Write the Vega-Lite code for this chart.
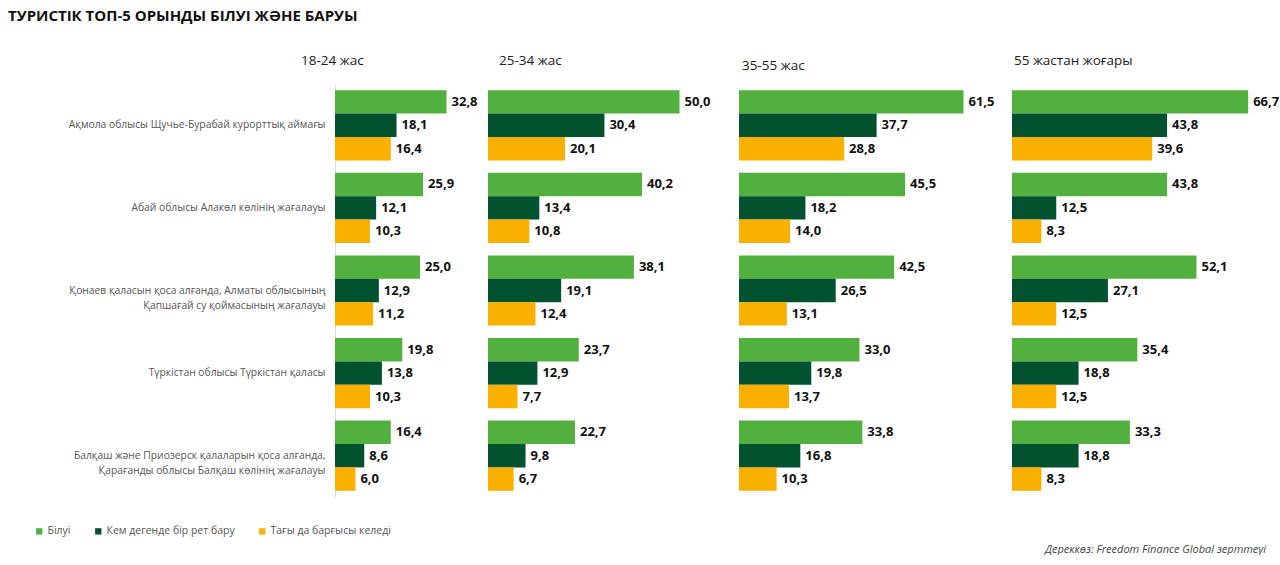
{
  "$schema": "https://vega.github.io/schema/vega-lite/v6.json",
  "padding": {"left": 8, "top": 8, "right": 0, "bottom": 0},
  "background": "white",
  "data": {
    "values": [
      {"age": "18-24 жас", "place": "Ақмола облысы Щучье-Бурабай курорттық аймағы", "Білуі": 32.8, "Кем дегенде бір рет бару": 18.1, "Тағы да барғысы келеді": 16.4},
      {"age": "18-24 жас", "place": "Абай облысы Алакөл көлінің жағалауы", "Білуі": 25.9, "Кем дегенде бір рет бару": 12.1, "Тағы да барғысы келеді": 10.3},
      {"age": "18-24 жас", "place": "Қонаев қаласын қоса алғанда, Алматы облысының Қапшағай су қоймасының жағалауы", "Білуі": 25.0, "Кем дегенде бір рет бару": 12.9, "Тағы да барғысы келеді": 11.2},
      {"age": "18-24 жас", "place": "Түркістан облысы Түркістан қаласы", "Білуі": 19.8, "Кем дегенде бір рет бару": 13.8, "Тағы да барғысы келеді": 10.3},
      {"age": "18-24 жас", "place": "Балқаш және Приозерск қалаларын қоса алғанда, Қарағанды облысы Балқаш көлінің жағалауы", "Білуі": 16.4, "Кем дегенде бір рет бару": 8.6, "Тағы да барғысы келеді": 6.0},
      {"age": "25-34 жас", "place": "Ақмола облысы Щучье-Бурабай курорттық аймағы", "Білуі": 50.0, "Кем дегенде бір рет бару": 30.4, "Тағы да барғысы келеді": 20.1},
      {"age": "25-34 жас", "place": "Абай облысы Алакөл көлінің жағалауы", "Білуі": 40.2, "Кем дегенде бір рет бару": 13.4, "Тағы да барғысы келеді": 10.8},
      {"age": "25-34 жас", "place": "Қонаев қаласын қоса алғанда, Алматы облысының Қапшағай су қоймасының жағалауы", "Білуі": 38.1, "Кем дегенде бір рет бару": 19.1, "Тағы да барғысы келеді": 12.4},
      {"age": "25-34 жас", "place": "Түркістан облысы Түркістан қаласы", "Білуі": 23.7, "Кем дегенде бір рет бару": 12.9, "Тағы да барғысы келеді": 7.7},
      {"age": "25-34 жас", "place": "Балқаш және Приозерск қалаларын қоса алғанда, Қарағанды облысы Балқаш көлінің жағалауы", "Білуі": 22.7, "Кем дегенде бір рет бару": 9.8, "Тағы да барғысы келеді": 6.7},
      {"age": "35-55 жас", "place": "Ақмола облысы Щучье-Бурабай курорттық аймағы", "Білуі": 61.5, "Кем дегенде бір рет бару": 37.7, "Тағы да барғысы келеді": 28.8},
      {"age": "35-55 жас", "place": "Абай облысы Алакөл көлінің жағалауы", "Білуі": 45.5, "Кем дегенде бір рет бару": 18.2, "Тағы да барғысы келеді": 14.0},
      {"age": "35-55 жас", "place": "Қонаев қаласын қоса алғанда, Алматы облысының Қапшағай су қоймасының жағалауы", "Білуі": 42.5, "Кем дегенде бір рет бару": 26.5, "Тағы да барғысы келеді": 13.1},
      {"age": "35-55 жас", "place": "Түркістан облысы Түркістан қаласы", "Білуі": 33.0, "Кем дегенде бір рет бару": 19.8, "Тағы да барғысы келеді": 13.7},
      {"age": "35-55 жас", "place": "Балқаш және Приозерск қалаларын қоса алғанда, Қарағанды облысы Балқаш көлінің жағалауы", "Білуі": 33.8, "Кем дегенде бір рет бару": 16.8, "Тағы да барғысы келеді": 10.3},
      {"age": "55 жастан жоғары", "place": "Ақмола облысы Щучье-Бурабай курорттық аймағы", "Білуі": 66.7, "Кем дегенде бір рет бару": 43.8, "Тағы да барғысы келеді": 39.6},
      {"age": "55 жастан жоғары", "place": "Абай облысы Алакөл көлінің жағалауы", "Білуі": 43.8, "Кем дегенде бір рет бару": 12.5, "Тағы да барғысы келеді": 8.3},
      {"age": "55 жастан жоғары", "place": "Қонаев қаласын қоса алғанда, Алматы облысының Қапшағай су қоймасының жағалауы", "Білуі": 52.1, "Кем дегенде бір рет бару": 27.1, "Тағы да барғысы келеді": 12.5},
      {"age": "55 жастан жоғары", "place": "Түркістан облысы Түркістан қаласы", "Білуі": 35.4, "Кем дегенде бір рет бару": 18.8, "Тағы да барғысы келеді": 12.5},
      {"age": "55 жастан жоғары", "place": "Балқаш және Приозерск қалаларын қоса алғанда, Қарағанды облысы Балқаш көлінің жағалауы", "Білуі": 33.3, "Кем дегенде бір рет бару": 18.8, "Тағы да барғысы келеді": 8.3}
    ]
  },
  "title": {"text": "ТУРИСТІК ТОП-5 ОРЫНДЫ БІЛУІ ЖӘНЕ БАРУЫ", "anchor": "start", "font": "Open Sans", "fontSize": 15, "fontWeight": "bold", "color": "#111111", "offset": 30},
  "vconcat": [
    {
      "title": {"text": "Дереккөз: Freedom Finance Global зерттеуі", "orient": "bottom", "anchor": "end", "font": "Open Sans", "fontSize": 11, "fontStyle": "italic", "fontWeight": "normal", "color": "#444444", "offset": 47, "dx": -13},
      "spacing": 0,
      "bounds": "flush",
      "resolve": {"scale": {"x": "independent", "y": "independent", "color": "shared"}},
      "hconcat": [
        {
          "width": 152.5, "height": 413,
          "transform": [{"filter": {"field": "age", "equal": "18-24 жас"}}, {"fold": ["Білуі", "Кем дегенде бір рет бару", "Тағы да барғысы келеді"], "as": ["series", "value"]}],
          "title": {"text": "18-24 жас", "frame": "group", "dx": -34},
          "encoding": {
            "y": {"field": "place", "type": "nominal", "sort": ["Ақмола облысы Щучье-Бурабай курорттық аймағы", "Абай облысы Алакөл көлінің жағалауы", "Қонаев қаласын қоса алғанда, Алматы облысының Қапшағай су қоймасының жағалауы", "Түркістан облысы Түркістан қаласы", "Балқаш және Приозерск қалаларын қоса алғанда, Қарағанды облысы Балқаш көлінің жағалауы"], "scale": {"paddingInner": 0.15, "paddingOuter": 0.075},
              "axis": {"title": null, "ticks": false, "domainColor": "#dddddd", "domainWidth": 1, "labelFont": "Open Sans", "labelFontSize": 10.3, "labelColor": "#555555", "labelPadding": 10, "labelLimit": 0, "labelLineHeight": 15, "minExtent": 327, "maxExtent": 327, "labelExpr": "split(replace(replace(datum.label, 'облысының ', 'облысының|'), 'алғанда, Қ', 'алғанда,|Қ'), '|')"}},
            "yOffset": {"field": "series", "type": "nominal", "sort": ["Білуі", "Кем дегенде бір рет бару", "Тағы да барғысы келеді"], "scale": {"paddingInner": 0, "paddingOuter": 0}},
            "x": {"field": "value", "type": "quantitative", "scale": {"domain": [0, 44.85], "nice": false}, "axis": null}
          },
          "layer": [
            {"mark": {"type": "bar"}, "encoding": {"color": {"field": "series", "type": "nominal", "scale": {"domain": ["Білуі", "Кем дегенде бір рет бару", "Тағы да барғысы келеді"], "range": ["#52B03F", "#03522F", "#F9B000"]}}}},
            {"mark": {"type": "text", "align": "left", "baseline": "middle", "dx": 5, "font": "Open Sans", "fontWeight": "bold", "fontSize": 13, "color": "#111111"}, "encoding": {"text": {"field": "value", "type": "quantitative", "format": ".1f"}}}
          ]
        },
        {
          "width": 250.5, "height": 413,
          "transform": [{"filter": {"field": "age", "equal": "25-34 жас"}}, {"fold": ["Білуі", "Кем дегенде бір рет бару", "Тағы да барғысы келеді"], "as": ["series", "value"]}],
          "title": {"text": "25-34 жас", "frame": "group", "dx": 11},
          "encoding": {
            "y": {"field": "place", "type": "nominal", "sort": ["Ақмола облысы Щучье-Бурабай курорттық аймағы", "Абай облысы Алакөл көлінің жағалауы", "Қонаев қаласын қоса алғанда, Алматы облысының Қапшағай су қоймасының жағалауы", "Түркістан облысы Түркістан қаласы", "Балқаш және Приозерск қалаларын қоса алғанда, Қарағанды облысы Балқаш көлінің жағалауы"], "scale": {"paddingInner": 0.15, "paddingOuter": 0.075}, "axis": null},
            "yOffset": {"field": "series", "type": "nominal", "sort": ["Білуі", "Кем дегенде бір рет бару", "Тағы да барғысы келеді"], "scale": {"paddingInner": 0, "paddingOuter": 0}},
            "x": {"field": "value", "type": "quantitative", "scale": {"domain": [0, 65.4], "nice": false}, "axis": null}
          },
          "layer": [
            {"mark": {"type": "bar"}, "encoding": {"color": {"field": "series", "type": "nominal", "scale": {"domain": ["Білуі", "Кем дегенде бір рет бару", "Тағы да барғысы келеді"], "range": ["#52B03F", "#03522F", "#F9B000"]}}}},
            {"mark": {"type": "text", "align": "left", "baseline": "middle", "dx": 5, "font": "Open Sans", "fontWeight": "bold", "fontSize": 13, "color": "#111111"}, "encoding": {"text": {"field": "value", "type": "quantitative", "format": ".1f"}}}
          ]
        },
        {
          "width": 272.3, "height": 413,
          "transform": [{"filter": {"field": "age", "equal": "35-55 жас"}}, {"fold": ["Білуі", "Кем дегенде бір рет бару", "Тағы да барғысы келеді"], "as": ["series", "value"]}],
          "title": {"text": "35-55 жас", "frame": "group", "dx": 3, "dy": 5},
          "encoding": {
            "y": {"field": "place", "type": "nominal", "sort": ["Ақмола облысы Щучье-Бурабай курорттық аймағы", "Абай облысы Алакөл көлінің жағалауы", "Қонаев қаласын қоса алғанда, Алматы облысының Қапшағай су қоймасының жағалауы", "Түркістан облысы Түркістан қаласы", "Балқаш және Приозерск қалаларын қоса алғанда, Қарағанды облысы Балқаш көлінің жағалауы"], "scale": {"paddingInner": 0.15, "paddingOuter": 0.075}, "axis": null},
            "yOffset": {"field": "series", "type": "nominal", "sort": ["Білуі", "Кем дегенде бір рет бару", "Тағы да барғысы келеді"], "scale": {"paddingInner": 0, "paddingOuter": 0}},
            "x": {"field": "value", "type": "quantitative", "scale": {"domain": [0, 74.6], "nice": false}, "axis": null}
          },
          "layer": [
            {"mark": {"type": "bar"}, "encoding": {"color": {"field": "series", "type": "nominal", "scale": {"domain": ["Білуі", "Кем дегенде бір рет бару", "Тағы да барғысы келеді"], "range": ["#52B03F", "#03522F", "#F9B000"]}}}},
            {"mark": {"type": "text", "align": "left", "baseline": "middle", "dx": 5, "font": "Open Sans", "fontWeight": "bold", "fontSize": 13, "color": "#111111"}, "encoding": {"text": {"field": "value", "type": "quantitative", "format": ".1f"}}}
          ]
        },
        {
          "width": 262, "height": 413,
          "transform": [{"filter": {"field": "age", "equal": "55 жастан жоғары"}}, {"fold": ["Білуі", "Кем дегенде бір рет бару", "Тағы да барғысы келеді"], "as": ["series", "value"]}],
          "title": {"text": "55 жастан жоғары", "frame": "group", "dx": 2},
          "encoding": {
            "y": {"field": "place", "type": "nominal", "sort": ["Ақмола облысы Щучье-Бурабай курорттық аймағы", "Абай облысы Алакөл көлінің жағалауы", "Қонаев қаласын қоса алғанда, Алматы облысының Қапшағай су қоймасының жағалауы", "Түркістан облысы Түркістан қаласы", "Балқаш және Приозерск қалаларын қоса алғанда, Қарағанды облысы Балқаш көлінің жағалауы"], "scale": {"paddingInner": 0.15, "paddingOuter": 0.075}, "axis": null},
            "yOffset": {"field": "series", "type": "nominal", "sort": ["Білуі", "Кем дегенде бір рет бару", "Тағы да барғысы келеді"], "scale": {"paddingInner": 0, "paddingOuter": 0}},
            "x": {"field": "value", "type": "quantitative", "scale": {"domain": [0, 74.0], "nice": false}, "axis": null}
          },
          "layer": [
            {"mark": {"type": "bar"}, "encoding": {"color": {"field": "series", "type": "nominal", "scale": {"domain": ["Білуі", "Кем дегенде бір рет бару", "Тағы да барғысы келеді"], "range": ["#52B03F", "#03522F", "#F9B000"]}}}},
            {"mark": {"type": "text", "align": "left", "baseline": "middle", "dx": 5, "font": "Open Sans", "fontWeight": "bold", "fontSize": 13, "color": "#111111"}, "encoding": {"text": {"field": "value", "type": "quantitative", "format": ".1f"}}}
          ]
        }
      ]
    }
  ],
  "config": {
    "locale": {"number": {"decimal": ",", "thousands": " ", "grouping": [3], "currency": ["", ""]}},
    "view": {"stroke": null},
    "title": {"anchor": "start", "font": "Open Sans", "fontSize": 13.5, "fontWeight": "normal", "color": "#222222", "offset": 17},
    "legend": {"orient": "none", "direction": "horizontal", "legendX": -301, "legendY": 442, "title": null, "symbolType": "square", "symbolSize": 40, "symbolStrokeWidth": 0, "labelFont": "Open Sans", "labelFontSize": 10.5, "labelColor": "#555555", "columnPadding": 22, "labelOffset": 3, "padding": 0}
  }
}
